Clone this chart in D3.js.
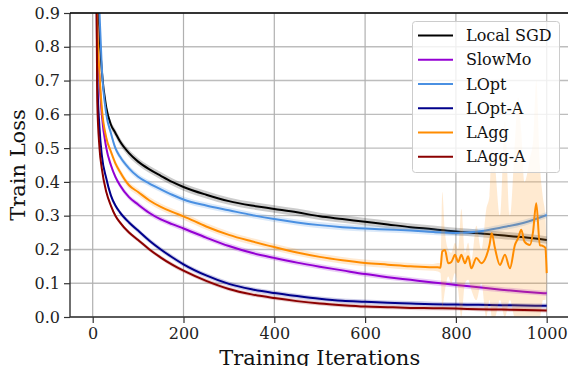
<!DOCTYPE html>
<html>
<head>
<meta charset="utf-8">
<script src="https://cdn.jsdelivr.net/npm/d3@7"></script>
<style>
  body { margin: 0; background: #fff; }
  svg { font-family: "DejaVu Serif", serif; }
</style>
</head>
<body>
<svg id="chart" width="568" height="366"></svg>
<script>
// training iterations shared by the smooth curves
var iters = [1, 10, 15, 20, 30, 40, 50, 60, 80, 100, 125, 150, 175, 200,
  250, 300, 350, 400, 450, 500, 550, 600, 650, 700, 750, 800, 850, 900, 950, 1000];

var localSgd = [2.3, 1.02, 0.84, 0.73, 0.62, 0.57, 0.545, 0.52, 0.485, 0.46, 0.437, 0.418, 0.40, 0.385,
  0.362, 0.343, 0.33, 0.32, 0.31, 0.298, 0.29, 0.282, 0.274, 0.266, 0.26, 0.253, 0.248, 0.242, 0.236, 0.228];
var slowMo = [2.3, 0.86, 0.70, 0.60, 0.50, 0.45, 0.415, 0.39, 0.355, 0.333, 0.308, 0.289, 0.275, 0.262,
  0.235, 0.21, 0.19, 0.175, 0.161, 0.149, 0.138, 0.127, 0.118, 0.11, 0.102, 0.095, 0.088, 0.081, 0.075, 0.07];
var lOpt = [2.3, 1.1, 0.9, 0.74, 0.6, 0.545, 0.50, 0.475, 0.44, 0.415, 0.395, 0.378, 0.362, 0.348,
  0.33, 0.316, 0.302, 0.29, 0.28, 0.272, 0.266, 0.262, 0.259, 0.256, 0.252, 0.249, 0.253, 0.265, 0.279, 0.302];
var lOptA = [2.3, 0.72, 0.56, 0.48, 0.41, 0.36, 0.33, 0.31, 0.28, 0.256, 0.226, 0.2, 0.177, 0.156,
  0.123, 0.098, 0.082, 0.071, 0.062, 0.054, 0.048, 0.045, 0.042, 0.04, 0.038, 0.037, 0.036, 0.035, 0.034, 0.033];
var lAggA = [2.3, 0.64, 0.50, 0.44, 0.37, 0.33, 0.30, 0.28, 0.25, 0.228, 0.2, 0.176, 0.155, 0.137,
  0.107, 0.083, 0.067, 0.056, 0.047, 0.04, 0.035, 0.031, 0.029, 0.027, 0.026, 0.025, 0.023, 0.022, 0.021, 0.019];

// LAgg gets unstable after ~760 iterations, so it has its own denser tail
var laggTailIters = [760, 766, 770, 776, 783, 790, 798, 805, 812, 820, 827, 834, 845, 856, 867, 874,
  879, 886, 897, 908, 919, 930, 937, 944, 951, 963, 970, 977, 985, 992, 997, 1000];
var laggIters = iters.slice(0, 25).concat(laggTailIters);
var lAgg = [2.3, 0.88, 0.72, 0.62, 0.53, 0.49, 0.455, 0.43, 0.39, 0.37, 0.345, 0.326, 0.311, 0.298,
  0.268, 0.243, 0.224, 0.207, 0.191, 0.178, 0.168, 0.16, 0.155, 0.15, 0.147,
  0.147, 0.146, 0.194, 0.198, 0.159, 0.163, 0.184, 0.163, 0.184, 0.159, 0.18, 0.144, 0.175, 0.159, 0.18, 0.213,
  0.248, 0.204, 0.154, 0.184, 0.144, 0.213, 0.233, 0.258, 0.223, 0.213, 0.253, 0.337, 0.213, 0.21, 0.205, 0.13];
var laggTailHi = [0.16, 0.16, 0.37, 0.25, 0.2, 0.19, 0.22, 0.2, 0.32, 0.19, 0.22, 0.17, 0.27, 0.2, 0.32, 0.36,
  0.5, 0.45, 0.3, 0.58, 0.3, 0.52, 0.65, 0.55, 0.4, 0.47, 0.52, 0.7, 0.45, 0.35, 0.3, 0.2];
var laggTailLo = [0.135, 0.13, 0.03, 0.08, 0.12, 0.1, 0.13, 0.08, 0.0, 0.1, 0.11, 0.08, 0.05, 0.1, 0.0, 0.05,
  0.0, 0.0, 0.05, 0.0, 0.05, 0.0, 0.0, 0.0, 0.0, 0.0, 0.0, 0.0, 0.0, 0.05, 0.05, 0.1];

var names = ["Local SGD", "SlowMo", "LOpt", "LOpt-A", "LAgg", "LAgg-A"];
var colors = ["#000000", "#9400d3", "#4a90e2", "#00008b", "#ff8c00", "#8b0000"];
var spreads = [0.011, 0.008, 0.009, 0.007, 0.01, 0.006];

var yTicks = [0, 0.1, 0.2, 0.3, 0.4, 0.5, 0.6, 0.7, 0.8, 0.9];
var xTicks = [0, 200, 400, 600, 800, 1000];

var svg = d3.select("#chart");
var plotLeft = 70, plotTop = 13, plotBottom = 317, plotRight = 569.4;

var x = d3.scaleLinear().domain([-50, 1050]).range([plotLeft, plotRight]);
var y = d3.scaleLinear().domain([0, 0.9]).range([plotBottom, plotTop]);

svg.append("defs").append("clipPath").attr("id", "plotclip")
  .append("rect").attr("x", plotLeft).attr("y", plotTop)
  .attr("width", plotRight - plotLeft).attr("height", plotBottom - plotTop);

// grid
var grid = svg.append("g");
grid.selectAll(".gy").data(yTicks).enter().append("line")
  .attr("x1", plotLeft).attr("x2", plotRight).attr("y1", d => y(d)).attr("y2", d => y(d))
  .attr("stroke", "#bdbdbd").attr("stroke-width", 1.4);
grid.selectAll(".gx").data(xTicks).enter().append("line")
  .attr("y1", plotTop).attr("y2", plotBottom).attr("x1", d => x(d)).attr("x2", d => x(d))
  .attr("stroke", "#b0b0b0").attr("stroke-width", 1.2);

var series = [
  { x: iters, y: localSgd },
  { x: iters, y: slowMo },
  { x: iters, y: lOpt },
  { x: iters, y: lOptA },
  { x: laggIters, y: lAgg },
  { x: iters, y: lAggA }
];

var plot = svg.append("g").attr("clip-path", "url(#plotclip)");

var area = d3.area().x(d => x(d.it)).y0(d => y(d.lo)).y1(d => y(d.hi)).curve(d3.curveMonotoneX);
var line = d3.line().x(d => x(d.it)).y(d => y(d.v)).curve(d3.curveMonotoneX);

series.forEach(function(s, k) {
  var pts = s.x.map(function(it, i) {
    var v = s.y[i], lo = v - spreads[k], hi = v + spreads[k];
    if (k === 4 && it >= 760) {
      var j = laggTailIters.indexOf(it);
      lo = laggTailLo[j]; hi = laggTailHi[j];
    }
    return { it: it, v: v, lo: lo, hi: hi };
  });
  plot.append("path").datum(pts).attr("d", area)
    .attr("fill", colors[k]).attr("fill-opacity", k === 4 ? 0.18 : 0.2).attr("stroke", "none");
  plot.append("path").datum(pts).attr("d", line)
    .attr("fill", "none").attr("stroke", colors[k]).attr("stroke-width", 2);
});

// axes
var yAxis = svg.append("g").attr("transform", "translate(" + plotLeft + ",0)")
  .call(d3.axisLeft(y).tickValues(yTicks).tickFormat(d3.format(".1f")).tickSize(6).tickPadding(4));
var xAxis = svg.append("g").attr("transform", "translate(0," + plotBottom + ")")
  .call(d3.axisBottom(x).tickValues(xTicks).tickFormat(d3.format("d")).tickSize(6).tickPadding(5));
[yAxis, xAxis].forEach(function(a) {
  a.select(".domain").remove();
  a.selectAll("line").attr("stroke", "#333").attr("stroke-width", 1.2);
  a.selectAll("text").attr("fill", "#222").style("font-family", '"DejaVu Serif", serif').style("font-size", "16px");
});

// spines
svg.append("line").attr("x1", plotLeft).attr("x2", plotLeft).attr("y1", plotTop).attr("y2", plotBottom)
  .attr("stroke", "#333").attr("stroke-width", 1.4);
svg.append("line").attr("x1", plotLeft).attr("x2", plotRight).attr("y1", plotBottom).attr("y2", plotBottom)
  .attr("stroke", "#333").attr("stroke-width", 1.4);
svg.append("line").attr("x1", plotLeft).attr("x2", plotRight).attr("y1", plotTop).attr("y2", plotTop)
  .attr("stroke", "#000").attr("stroke-width", 1.4);

// labels
svg.append("text").attr("transform", "translate(25,165) rotate(-90)")
  .attr("text-anchor", "middle").style("font-size", "21px").attr("fill", "#111").text("Train Loss");
svg.append("text").attr("x", (plotLeft + plotRight) / 2).attr("y", 364.5)
  .attr("text-anchor", "middle").style("font-size", "21px").attr("fill", "#111").text("Training Iterations");

// legend
var lg = svg.append("g");
lg.append("rect").attr("x", 412.5).attr("y", 21.5).attr("width", 147).attr("height", 151).attr("rx", 3)
  .attr("fill", "#fff").attr("fill-opacity", 0.8).attr("stroke", "#cccccc").attr("stroke-width", 1);
names.forEach(function(n, i) {
  var ry = 35.5 + i * 24.25;
  lg.append("line").attr("x1", 418).attr("x2", 453).attr("y1", ry).attr("y2", ry)
    .attr("stroke", colors[i]).attr("stroke-width", 2);
  lg.append("text").attr("x", 466).attr("y", ry).attr("dy", "0.35em")
    .style("font-size", "16px").attr("fill", "#111").text(n);
});
</script>
</body>
</html>
